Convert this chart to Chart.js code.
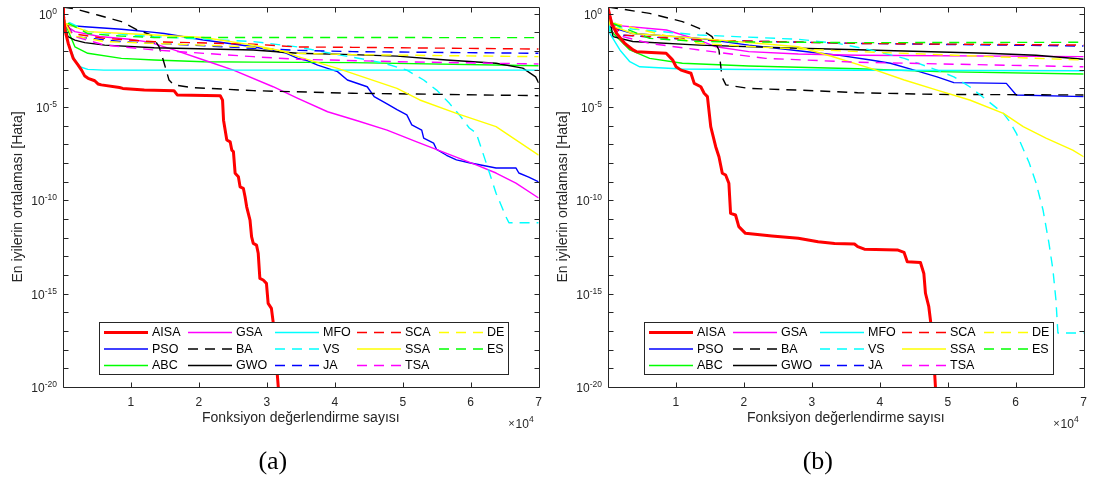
<!DOCTYPE html>
<html>
<head>
<meta charset="utf-8">
<script src="https://cdn.jsdelivr.net/npm/chart.js@4.4.1/dist/chart.umd.min.js"></script>
<style>
html,body{margin:0;padding:0;background:#fff;}
#wrap{position:relative;width:1101px;height:479px;overflow:hidden;background:#fff;}
#wrap canvas{position:absolute;top:0;}
</style>
</head>
<body>
<div id="wrap">
<canvas id="chartA" width="550" height="479" style="left:0px"></canvas>
<canvas id="chartB" width="550" height="479" style="left:545px"></canvas>
</div>
<script>
// ---------- DATA (x = function evaluations, second value = log10 of mean best error) ----------
const SERIES_NAMES = ['AISA','PSO','ABC','GSA','BA','GWO','MFO','VS','JA','SCA','SSA','TSA','DE','ES'];
const X_TICK_VALUES = [0,10000,20000,30000,40000,50000,60000,70000];
const X_TICK_LABELS = ['','1','2','3','4','5','6','7'];
const Y_LABEL_EXPONENTS = [0,-5,-10,-15,-20];
const Y_MINOR_EXPONENTS = [0,-1,-2,-3,-4,-5,-6,-7,-8,-9,-10,-11,-12,-13,-14,-15,-16,-17,-18,-19,-20];
const X_MIN = 0, X_MAX = 70000, Y_MIN = 1e-20, Y_MAX = 2.24;
const X_TITLE = 'Fonksiyon değerlendirme sayısı';
const Y_TITLE = 'En iyilerin ortalaması [Hata]';
const CAPTIONS = ['(a)','(b)'];

// (a)
const a_AISA = [[0,0.3],[70,-0.16],[290,-0.87],[770,-1.6],[1500,-2.4],[2230,-2.76],[2730,-3.03],[3210,-3.35],[3690,-3.47],[4670,-3.6],[5150,-3.77],[5640,-3.82],[8310,-3.96],[8790,-4.01],[11960,-4.1],[16330,-4.13],[16810,-4.36],[23140,-4.4],[23480,-4.64],[23625,-5.71],[24105,-6.77],[24600,-6.87],[24835,-7.31],[25080,-7.39],[25330,-8.55],[25810,-8.74],[26060,-9.28],[26540,-9.36],[26790,-9.81],[27030,-10.35],[27270,-10.7],[27520,-11.06],[27750,-11.95],[28000,-12.31],[28480,-12.4],[28730,-12.84],[28970,-14.18],[29460,-14.27],[29940,-14.45],[30190,-15.52],[30670,-15.79],[30920,-16.5],[31350,-18.47],[31790,-20.51]];
const a_PSO = [[0,0.3],[290,-0.62],[3210,-0.71],[8600,-0.84],[13420,-1.01],[14870,-1.07],[20710,-1.42],[28000,-1.78],[32810,-2.12],[34560,-2.4],[36020,-2.53],[37480,-2.76],[38940,-2.94],[40400,-3.11],[41850,-3.56],[44770,-3.92],[45790,-4.45],[47690,-4.84],[49150,-5.15],[50600,-5.43],[51330,-5.96],[52790,-6.24],[53080,-6.67],[54540,-6.94],[54980,-7.28],[56440,-7.59],[57900,-7.84],[59790,-7.99],[63730,-8.27],[66650,-8.27],[67080,-8.54],[68540,-8.76],[70000,-9.01]];
const a_ABC = [[0,0.3],[290,-0.52],[1750,-1.78],[3650,-2.13],[8600,-2.4],[13420,-2.49],[20710,-2.58],[28000,-2.6],[42580,-2.63],[70000,-2.8]];
const a_GSA = [[0,0.3],[290,-0.62],[1750,-0.97],[5400,-1.23],[9770,-1.38],[12690,-1.53],[16330,-1.95],[20710,-2.49],[25080,-3.03],[30920,-3.92],[34560,-4.54],[38940,-5.26],[43310,-5.74],[47690,-6.24],[52060,-6.87],[56440,-7.49],[60810,-8.1],[63730,-8.54],[66650,-9.08],[70000,-9.88]];
const a_BA = [[0,0.35],[2000,0.23],[5100,-0.08],[8600,-0.43],[10940,-0.88],[12980,-1.15],[14150,-1.78],[14880,-2.65],[15600,-3.56],[16330,-3.82],[18810,-3.96],[28000,-4.13],[42580,-4.27],[52060,-4.31],[70000,-4.4]];
const a_GWO = [[0,0.3],[290,-0.67],[730,-1.24],[1750,-1.42],[3210,-1.56],[6130,-1.69],[13420,-1.83],[28000,-1.95],[34560,-2.13],[42580,-2.2],[49150,-2.28],[56440,-2.49],[63730,-2.66],[67660,-2.92],[69560,-3.39],[70000,-3.72]];
const a_MFO = [[0,0.3],[290,-0.67],[770,-1.6],[1750,-2.49],[2480,-2.85],[3650,-2.99],[6000,-3.03],[70000,-3.03]];
const a_VS = [[0,0.3],[290,-0.36],[3650,-0.97],[13420,-1.24],[28000,-1.5],[34560,-1.79],[40830,-2.23],[44330,-2.45],[47250,-2.66],[50600,-3.03],[53080,-3.56],[54980,-4.1],[56870,-4.81],[58330,-5.43],[59790,-6.13],[60810,-6.4],[62270,-7.99],[63730,-9.62],[65190,-10.89],[65620,-11.2],[70000,-11.2]];
const a_JA = [[0,0.3],[290,-0.47],[1750,-1.24],[8600,-1.5],[28000,-1.86],[34560,-1.97],[42580,-2.04],[70000,-2.13]];
const a_SCA = [[0,0.3],[290,-0.36],[1310,-1.07],[6130,-1.33],[13420,-1.51],[28000,-1.64],[34560,-1.79],[42580,-1.81],[70000,-1.9]];
const a_SSA = [[0,0.3],[290,-0.52],[3650,-0.97],[13420,-1.15],[20710,-1.28],[28000,-1.69],[32080,-1.99],[34560,-2.31],[40400,-2.94],[49150,-4.01],[52500,-4.63],[57900,-5.35],[63730,-6.06],[70000,-7.58]];
const a_TSA = [[0,0.3],[290,-0.57],[1750,-1.24],[6130,-1.69],[13420,-1.95],[28000,-2.31],[34560,-2.45],[49150,-2.58],[70000,-2.7]];
const a_DE = [[0,0.3],[290,-0.47],[1310,-1.18],[6130,-1.5],[13420,-1.6],[28000,-1.79],[34560,-2.13],[42580,-2.2],[70000,-2.31]];
const a_ES = [[0,0.3],[290,-0.43],[3650,-1.07],[8600,-1.21],[13420,-1.28],[70000,-1.29]];

// (b)
const b_AISA = [[0,0.3],[540,-0.53],[1270,-1.07],[2480,-1.6],[3690,-1.95],[4180,-2.04],[8560,-2.13],[9290,-2.4],[9520,-2.49],[10020,-2.85],[10750,-3.03],[12210,-3.2],[12690,-3.74],[13660,-3.92],[14150,-4.27],[14630,-4.45],[15120,-6.06],[15850,-7.13],[16330,-7.67],[16820,-8.55],[17310,-8.65],[17790,-9.09],[18040,-10.7],[18770,-10.79],[19250,-11.41],[20230,-11.77],[24110,-11.91],[28000,-12.03],[30920,-12.22],[33350,-12.31],[36270,-12.34],[36750,-12.48],[37730,-12.62],[42580,-12.66],[43560,-12.79],[44040,-13.29],[45980,-13.33],[46480,-13.92],[46720,-14.98],[47210,-15.7],[47450,-16.41],[47830,-17.76],[48270,-20.51]];
const b_PSO = [[0,0.3],[290,-0.72],[3650,-1.07],[13420,-1.33],[20710,-1.69],[28000,-1.99],[33830,-2.23],[38650,-2.49],[41560,-2.66],[45060,-3.03],[48420,-3.39],[50900,-3.7],[58620,-3.74],[60080,-4.36],[70000,-4.45]];
const b_ABC = [[0,0.3],[290,-0.88],[3210,-1.95],[6130,-2.4],[10940,-2.66],[20710,-2.81],[36750,-2.96],[48420,-3.11],[70000,-3.24]];
const b_GSA = [[0,0.3],[730,-0.62],[8600,-0.88],[13420,-1.42],[15900,-1.78],[20710,-2.04],[28000,-2.17],[36750,-2.23],[70000,-2.31]];
const b_BA = [[0,0.35],[6130,0.01],[10940,-0.43],[13420,-0.79],[15310,-1.24],[16330,-1.95],[16770,-3.39],[17350,-3.82],[20710,-4.01],[28000,-4.1],[36750,-4.24],[48420,-4.33],[70000,-4.36]];
const b_GWO = [[0,0.3],[730,-1.24],[3650,-1.5],[13420,-1.69],[28000,-1.86],[36750,-1.94],[55700,-2.13],[63000,-2.23],[70000,-2.45]];
const b_MFO = [[0,0.3],[290,-1.07],[1750,-1.95],[3210,-2.58],[4670,-2.85],[10940,-2.97],[36750,-3.04],[70000,-3.06]];
const b_VS = [[0,0.3],[290,-0.26],[1750,-0.77],[13420,-1.15],[28000,-1.38],[33830,-1.6],[38650,-1.95],[43600,-2.4],[48420,-3.03],[50900,-3.39],[53230,-3.92],[55710,-4.63],[58190,-5.35],[59060,-5.76],[60080,-6.4],[61980,-7.99],[63000,-9.08],[64020,-10.52],[64890,-12.29],[65480,-13.73],[65920,-15.34],[66210,-17.11],[70000,-17.11]];
const b_JA = [[0,0.3],[290,-0.47],[1750,-1.15],[13420,-1.42],[36750,-1.6],[70000,-1.74]];
const b_SCA = [[0,0.3],[290,-0.47],[2190,-1.15],[13420,-1.42],[36750,-1.6],[70000,-1.69]];
const b_SSA = [[0,0.3],[290,-0.62],[3650,-1.07],[13420,-1.33],[28000,-1.78],[33000,-2.3],[38650,-2.94],[43600,-3.56],[48420,-4.1],[53230,-4.63],[58190,-5.35],[61100,-6.06],[64450,-6.67],[68390,-7.31],[70000,-7.67]];
const b_TSA = [[0,0.3],[290,-0.57],[2190,-1.24],[6130,-1.6],[13420,-1.95],[23190,-2.4],[36750,-2.61],[70000,-2.85]];
const b_DE = [[0,0.3],[290,-0.47],[13420,-1.6],[23190,-1.81],[36750,-2.04],[70000,-2.49]];
const b_ES = [[0,0.3],[290,-0.47],[6130,-1.33],[13420,-1.5],[36750,-1.56],[70000,-1.54]];

const PANEL_A = [a_AISA,a_PSO,a_ABC,a_GSA,a_BA,a_GWO,a_MFO,a_VS,a_JA,a_SCA,a_SSA,a_TSA,a_DE,a_ES];
const PANEL_B = [b_AISA,b_PSO,b_ABC,b_GSA,b_BA,b_GWO,b_MFO,b_VS,b_JA,b_SCA,b_SSA,b_TSA,b_DE,b_ES];

// ---------- STYLES ----------
const SERIES_COLORS = ['#ff0000','#0000ff','#00ff00','#ff00ff','#000000','#000000','#00ffff','#00ffff','#0000ff','#ff0000','#ffff00','#ff00ff','#ffff00','#00ff00'];
const SERIES_DASHED = [false,false,false,false,true,false,false,true,true,true,false,true,true,true];
const SERIES_WIDTH = [3,1.4,1.4,1.4,1.4,1.4,1.4,1.4,1.4,1.4,1.4,1.4,1.4,1.4];
const DASH = [10,7];
const AXIS_COLOR = '#262626';
const SANS = '"Liberation Sans", Arial, Helvetica, sans-serif';
const SERIF = '"Liberation Serif", "Times New Roman", serif';

function drawPow(ctx, xr, yBase, base, exp, bigPx, smallPx, raise) {
  ctx.font = bigPx + 'px ' + SANS;
  const wb = ctx.measureText(base).width;
  ctx.font = smallPx + 'px ' + SANS;
  const we = ctx.measureText(exp).width;
  ctx.textAlign = 'left';
  ctx.textBaseline = 'alphabetic';
  ctx.font = bigPx + 'px ' + SANS;
  ctx.fillText(base, xr - we - wb, yBase);
  ctx.font = smallPx + 'px ' + SANS;
  ctx.fillText(exp, xr - we, yBase - raise);
  return xr - we - wb;
}

const decorations = {
  id: 'decorations',
  afterDatasetsDraw(chart) {
    const ctx = chart.ctx, a = chart.chartArea;
    const xs = chart.scales.x, ys = chart.scales.y;
    const caption = chart.options.plugins.decorations.caption;
    ctx.save();
    // legend box
    const lx = 99, ly = 322, lw = 409, lh = 52;
    ctx.fillStyle = '#ffffff';
    ctx.fillRect(lx, ly, lw, lh);
    ctx.strokeStyle = AXIS_COLOR; ctx.lineWidth = 1; ctx.setLineDash([]);
    ctx.strokeRect(lx + 0.5, ly + 0.5, lw, lh);
    const colX = [104, 188, 275, 357, 439];
    const rowY = [332.5, 349, 365.5];
    chart.data.datasets.forEach((ds, i) => {
      const c = Math.floor(i / 3), r = i % 3;
      const x0 = colX[c], y0 = rowY[r];
      ctx.beginPath();
      ctx.strokeStyle = ds.borderColor;
      ctx.lineWidth = ds.borderWidth;
      ctx.setLineDash(ds.borderDash || []);
      ctx.moveTo(x0, y0); ctx.lineTo(x0 + 44, y0);
      ctx.stroke();
      ctx.setLineDash([]);
      ctx.fillStyle = '#000';
      ctx.font = '12.5px ' + SANS;
      ctx.textAlign = 'left'; ctx.textBaseline = 'middle';
      ctx.fillText(ds.label, x0 + 48, y0 + 0.5);
    });
    // frame
    ctx.strokeStyle = AXIS_COLOR; ctx.lineWidth = 1;
    const L = Math.round(a.left) + 0.5, R = Math.round(a.right) + 0.5;
    const T = Math.round(a.top) + 0.5, B = Math.round(a.bottom) + 0.5;
    ctx.beginPath();
    ctx.moveTo(L, T); ctx.lineTo(R, T); ctx.lineTo(R, B); ctx.lineTo(L, B); ctx.closePath();
    ctx.stroke();
    // ticks
    const TL = 5;
    ctx.beginPath();
    X_TICK_VALUES.forEach(v => {
      if (v <= X_MIN || v >= X_MAX) return;
      const px = Math.round(xs.getPixelForValue(v)) + 0.5;
      ctx.moveTo(px, B); ctx.lineTo(px, B - TL);
      ctx.moveTo(px, T); ctx.lineTo(px, T + TL);
    });
    Y_MINOR_EXPONENTS.forEach(k => {
      const py = Math.round(ys.getPixelForValue(Math.pow(10, k))) + 0.5;
      ctx.moveTo(L, py); ctx.lineTo(L + TL, py);
      ctx.moveTo(R, py); ctx.lineTo(R - TL, py);
    });
    ctx.stroke();
    // y tick labels 10^k
    ctx.fillStyle = AXIS_COLOR;
    Y_LABEL_EXPONENTS.forEach(k => {
      const py = ys.getPixelForValue(Math.pow(10, k));
      drawPow(ctx, a.left - 6, py + 5, '10', String(k), 12, 8.5, 5);
    });
    // x exponent label
    const sx = drawPow(ctx, a.right - 5, 428, '10', '4', 12, 8.5, 6);
    ctx.font = '11px ' + SANS; ctx.textAlign = 'right'; ctx.textBaseline = 'alphabetic';
    ctx.fillText('\u00d7', sx - 1, 427);
    // axis titles
    ctx.font = '14px ' + SANS;
    ctx.textAlign = 'center'; ctx.textBaseline = 'middle';
    ctx.fillText(X_TITLE, (a.left + a.right) / 2, 418);
    ctx.save();
    ctx.translate(18, (a.top + a.bottom) / 2);
    ctx.rotate(-Math.PI / 2);
    ctx.fillText(Y_TITLE, 0, 0);
    ctx.restore();
    // caption
    ctx.fillStyle = '#000';
    ctx.font = '26px ' + SERIF;
    ctx.fillText(caption, (a.left + a.right) / 2 - 28, 462);
    ctx.restore();
  }
};

function buildChart(canvasId, panel, caption) {
  const datasets = SERIES_NAMES.map((name, i) => ({
    label: name,
    data: panel[i].map(p => ({ x: p[0], y: Math.pow(10, p[1]) })),
    borderColor: SERIES_COLORS[i],
    backgroundColor: SERIES_COLORS[i],
    borderWidth: SERIES_WIDTH[i],
    borderDash: SERIES_DASHED[i] ? DASH : [],
    borderJoinStyle: 'round',
    pointRadius: 0,
    fill: false,
    tension: 0,
    clip: 0,
    order: i === 0 ? 0 : 100 - i
  }));
  return new Chart(document.getElementById(canvasId), {
    type: 'line',
    data: { datasets },
    options: {
      responsive: false,
      animation: false,
      devicePixelRatio: 1,
      layout: { padding: { left: 0, right: 7, top: 7, bottom: 0 } },
      plugins: { legend: { display: false }, tooltip: { enabled: false }, decorations: { caption } },
      scales: {
        x: {
          type: 'linear', min: X_MIN, max: X_MAX,
          afterBuildTicks: s => { s.ticks = X_TICK_VALUES.map(v => ({ value: v })); },
          afterFit: s => { s.height = 92; },
          ticks: {
            autoSkip: false, maxRotation: 0, padding: 8,
            font: { family: SANS, size: 12 }, color: AXIS_COLOR,
            callback: (v, idx) => X_TICK_LABELS[idx]
          },
          grid: { display: false, drawTicks: false },
          border: { display: false }
        },
        y: {
          type: 'logarithmic', min: Y_MIN, max: Y_MAX,
          afterFit: s => { s.width = 63; },
          ticks: { display: false },
          grid: { display: false, drawTicks: false },
          border: { display: false }
        }
      }
    },
    plugins: [decorations]
  });
}

buildChart('chartA', PANEL_A, CAPTIONS[0]);
buildChart('chartB', PANEL_B, CAPTIONS[1]);
</script>
</body>
</html>
